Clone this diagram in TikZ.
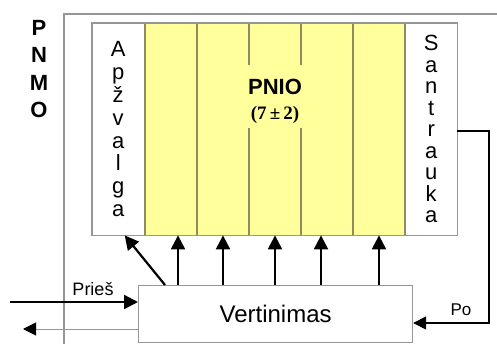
\documentclass[tikz,border=0pt]{standalone}
\usepackage{fontspec}
\setmainfont{Liberation Sans}
\newfontfamily\serifb{Liberation Serif}
\usetikzlibrary{arrows.meta,calc}
\definecolor{pyellow}{RGB}{255,255,155}
\definecolor{framegray}{RGB}{150,150,150}
\definecolor{divcol}{RGB}{140,140,95}
\begin{document}
\begin{tikzpicture}[x=1pt,y=-1pt,
  arr/.style={-{Triangle[length=14pt,width=14pt]}, line width=2.2pt},
  colbox/.style={minimum width=52pt, minimum height=212pt, inner sep=0pt, anchor=north west},
  ycol/.style={colbox, fill=pyellow},
  wcol/.style={colbox, fill=white},
  divider/.style={divcol, line width=1.2pt},
  frameline/.style={framegray, line width=1.5pt},
  vtext/.style={align=center, inner sep=0pt, font=\fontsize{22}{22.8}\selectfont},
  lab/.style={inner sep=1pt, font=\fontsize{18}{20}\selectfont}]
\useasboundingbox (0,0) rectangle (497,344);
% outer PNMO frame
\coordinate (o1) at (497,14);
\coordinate (o2) at (64,14);
\coordinate (o3) at (64,346);
\draw[frameline] (o1) -- (o2) -- (o3);
\node[align=center, inner sep=0pt, font=\bfseries\fontsize{22}{27.5}\selectfont] (pnmo) at (39,69) {P\\N\\M\\O};
% columns
\node[wcol] (c0) at (92,23) {};
\node[ycol] (c1) at (145,23) {};
\node[ycol] (c2) at (197,23) {};
\node[ycol] (c3) at (249,23) {};
\node[ycol] (c4) at (301,23) {};
\node[ycol] (c5) at (353,23) {};
\node[wcol] (c6) at (405,23) {};
% dividers
\draw[divider] (c1.north west) -- (c1.south west);
\draw[divider] (c2.north west) -- (c2.south west);
\draw[divider] (c3.north west) -- ++(0,42);
\draw[divider] (c3.south west) -- ++(0,-107);
\draw[divider] (c4.north west) -- ++(0,42);
\draw[divider] (c4.south west) -- ++(0,-107);
\draw[divider] (c5.north west) -- (c5.south west);
\draw[divider] (c6.north west) -- (c6.south west);
\draw[framegray, line width=1.2pt] (c0.north west) rectangle (c6.south east);
% column texts
\node[vtext] (apz) at (c0.center) {A\\p\\ž\\v\\a\\l\\g\\a};
\node[vtext, font=\fontsize{22}{21.5}\selectfont] (san) at (c6.center) {S\\a\\n\\t\\r\\a\\u\\k\\a};
\node[inner sep=0pt, font=\bfseries\fontsize{22}{24}\selectfont] (pnio) at (275,87) {PNIO};
\node[inner sep=0pt, font=\serifb\bfseries\fontsize{19}{21}\selectfont] (pm) at (275,115) {(7\,±\,2)};
% evaluation box
\node[draw=framegray, line width=1.2pt, fill=white, minimum width=274pt, minimum height=57pt, anchor=north west, inner sep=0pt, font=\fontsize{24}{28}\selectfont] (ver) at (138,285) {Vertinimas};
% arrows up
\foreach \i/\x in {1/178,2/223,3/275,4/321,5/379}{
  \coordinate (t\i) at (\x,0);
  \draw[arr] (ver.north -| t\i) -- (c0.south -| t\i);
}
\draw[arr] ($(ver.north west)+(27,0)$) -- ($(c0.south)+(6.5,0)$);
% Pries
\coordinate (pin) at (10,302);
\draw[arr] (pin) -- (ver.west |- pin);
\node[lab] (pries) at (93,289) {Prieš};
% back output
\coordinate (pout) at (23,329);
\draw[framegray, line width=1pt, -{Triangle[length=13pt,width=13pt,color=black]}] (ver.west |- pout) -- (pout);
% Po feedback
\coordinate (pc1) at (489,131);
\coordinate (pc2) at (489,323);
\draw[line width=1.6pt, -{Triangle[length=13pt,width=13pt]}] (c6.east |- pc1) -- (pc1) -- (pc2) -- (ver.east |- pc2);
\node[lab, font=\fontsize{17}{19}\selectfont] (po) at (461,310) {Po};
\end{tikzpicture}
\end{document}
